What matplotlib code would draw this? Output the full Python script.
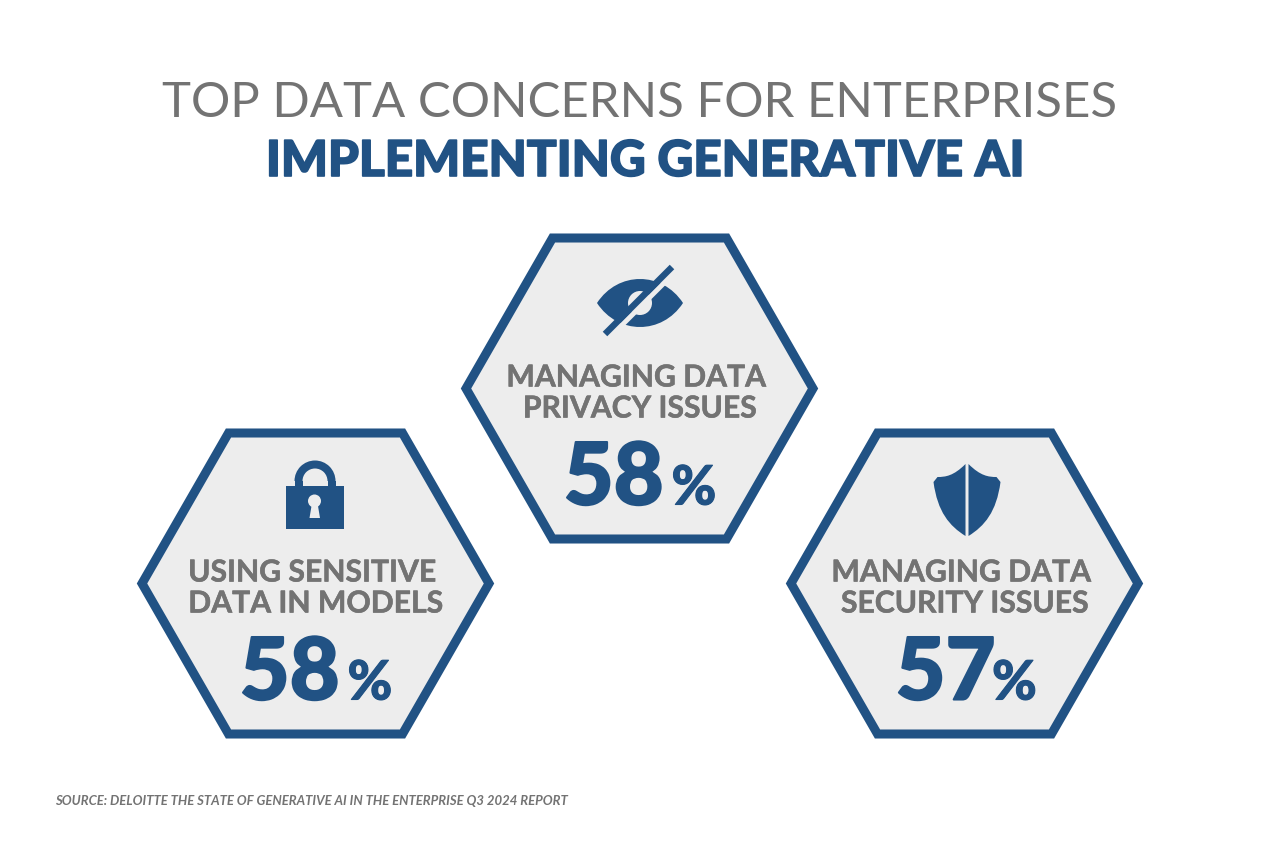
import matplotlib
matplotlib.use("Agg")
import matplotlib.pyplot as plt
from matplotlib.patches import Polygon, Circle, PathPatch, Rectangle, Wedge
from matplotlib.path import Path
import matplotlib.patheffects as pe

BLUE = "#215284"
GRAY = "#737373"
FILL = "#EDEDED"
FONT = "Lato"

title_top = "TOP DATA CONCERNS FOR ENTERPRISES"
title_bottom = "IMPLEMENTING GENERATIVE AI"
source = "SOURCE: DELOITTE THE STATE OF GENERATIVE AI IN THE ENTERPRISE Q3 2024 REPORT"
labels = [["USING SENSITIVE", "DATA IN MODELS"],
          ["MANAGING DATA", "PRIVACY ISSUES"],
          ["MANAGING DATA", "SECURITY ISSUES"]]
values = [58, 58, 57]
icons = ["lock", "eye", "shield"]
centers = [(315.5, 584.5), (639.5, 389.5), (964.5, 584.5)]
value_dx = [24, 24, 31]
pct_dx = [32, 32, 27.5]

fig = plt.figure(figsize=(12.8, 8.54), dpi=100, facecolor="white")
ax = fig.add_axes([0, 0, 1, 1])
ax.set_xlim(0, 1280)
ax.set_ylim(854, 0)
ax.axis("off")


def heavy(width, color):
    return [pe.withStroke(linewidth=width, foreground=color)]


def hexagon(cx, cy):
    pts = [(cx - 173.5, cy), (cx - 87, cy - 150.5), (cx + 87, cy - 150.5),
           (cx + 173.5, cy), (cx + 87, cy + 150.5), (cx - 87, cy + 150.5)]
    ax.add_patch(Polygon(pts, closed=True, facecolor=FILL, edgecolor=BLUE,
                         linewidth=6.5, joinstyle="miter"))


def lock(cx, cy):
    ax.add_patch(Wedge((cx, cy + 4), 20.5, 180, 360, width=8, facecolor=BLUE, edgecolor="none"))
    ax.add_patch(Rectangle((cx - 20.5, cy + 4), 8, 7, facecolor=BLUE, edgecolor="none"))
    ax.add_patch(Rectangle((cx + 12.5, cy + 4), 8, 7, facecolor=BLUE, edgecolor="none"))
    ax.add_patch(Rectangle((cx - 29, cy + 9), 57.5, 43, facecolor=BLUE, edgecolor="none"))
    ax.add_patch(Circle((cx - 0.5, cy + 24), 6.5, facecolor=FILL, edgecolor="none"))
    ax.add_patch(Polygon([(cx - 3, cy + 26), (cx + 2.5, cy + 26), (cx + 5, cy + 41), (cx - 5.5, cy + 41)],
                         closed=True, facecolor=FILL, edgecolor="none"))


def eye(cx, cy):
    body = Path([(cx - 43, cy), (cx - 22, cy - 32), (cx + 22, cy - 32), (cx + 43, cy),
                 (cx + 22, cy + 32), (cx - 22, cy + 32), (cx - 43, cy), (cx - 43, cy)],
                [1, 4, 4, 4, 4, 4, 4, 79])
    ax.add_patch(PathPatch(body, facecolor=BLUE, edgecolor="none"))
    ax.add_patch(Circle((cx, cy), 12, facecolor=FILL, edgecolor="none"))
    ax.plot([cx - 30, cx + 32], [cy + 34, cy - 28], color=FILL, linewidth=3.6, solid_capstyle="butt")
    ax.plot([cx - 35, cx + 32], [cy + 31, cy - 36], color=BLUE, linewidth=4.6, solid_capstyle="butt")


def shield(cx, cy):
    for s, edge in ((-1, -1.5), (1, 1.5)):
        x0 = cx + edge
        pts = [(x0, cy - 36), (x0 + s * 12, cy - 24), (x0 + s * 20, cy - 23), (x0 + s * 28, cy - 23),
               (x0 + s * 32, cy - 18), (x0 + s * 28, cy + 12), (x0 + s * 16, cy + 26), (x0, cy + 36), (x0, cy - 36)]
        ax.add_patch(PathPatch(Path(pts, [1, 4, 4, 4, 2, 4, 4, 4, 79]), facecolor=BLUE, edgecolor="none"))


draw_icon = {"lock": lock, "eye": eye, "shield": shield}
icon_pos = {"lock": (315, 478), "eye": (640, 304), "shield": (967, 501)}

ax.text(640, 117, title_top, ha="center", va="baseline", color=GRAY, fontsize=35.4, family=FONT)
ax.text(645, 177, title_bottom, ha="center", va="baseline", color=BLUE, fontsize=35.6, family=FONT,
        fontweight="black", path_effects=heavy(1.2, BLUE))

for (cx, cy), lab, val, ic, vd, pd in zip(centers, labels, values, icons, value_dx, pct_dx):
    hexagon(cx, cy)
    draw_icon[ic](*icon_pos[ic])
    ax.text(cx - 3.5, cy - 2, lab[0], ha="center", va="baseline", color=GRAY, fontsize=21.7, family=FONT,
            fontweight="bold", path_effects=heavy(0.4, GRAY))
    ax.text(cx, cy + 29, lab[1], ha="center", va="baseline", color=GRAY, fontsize=21.7, family=FONT,
            fontweight="bold", path_effects=heavy(0.4, GRAY))
    ax.text(cx + vd, cy + 116, str(val), ha="right", va="baseline", color=BLUE, fontsize=62, family=FONT,
            fontweight="black", path_effects=heavy(1.5, BLUE))
    ax.text(cx + pd, cy + 116, "%", ha="left", va="baseline", color=BLUE, fontsize=39, family=FONT,
            fontweight="black", path_effects=heavy(0.8, BLUE))

ax.text(55, 805, source, ha="left", va="baseline", color=GRAY, fontsize=9.45, family=FONT,
        fontweight="bold", fontstyle="italic")

fig.savefig("out.png", dpi=100, facecolor="white")
